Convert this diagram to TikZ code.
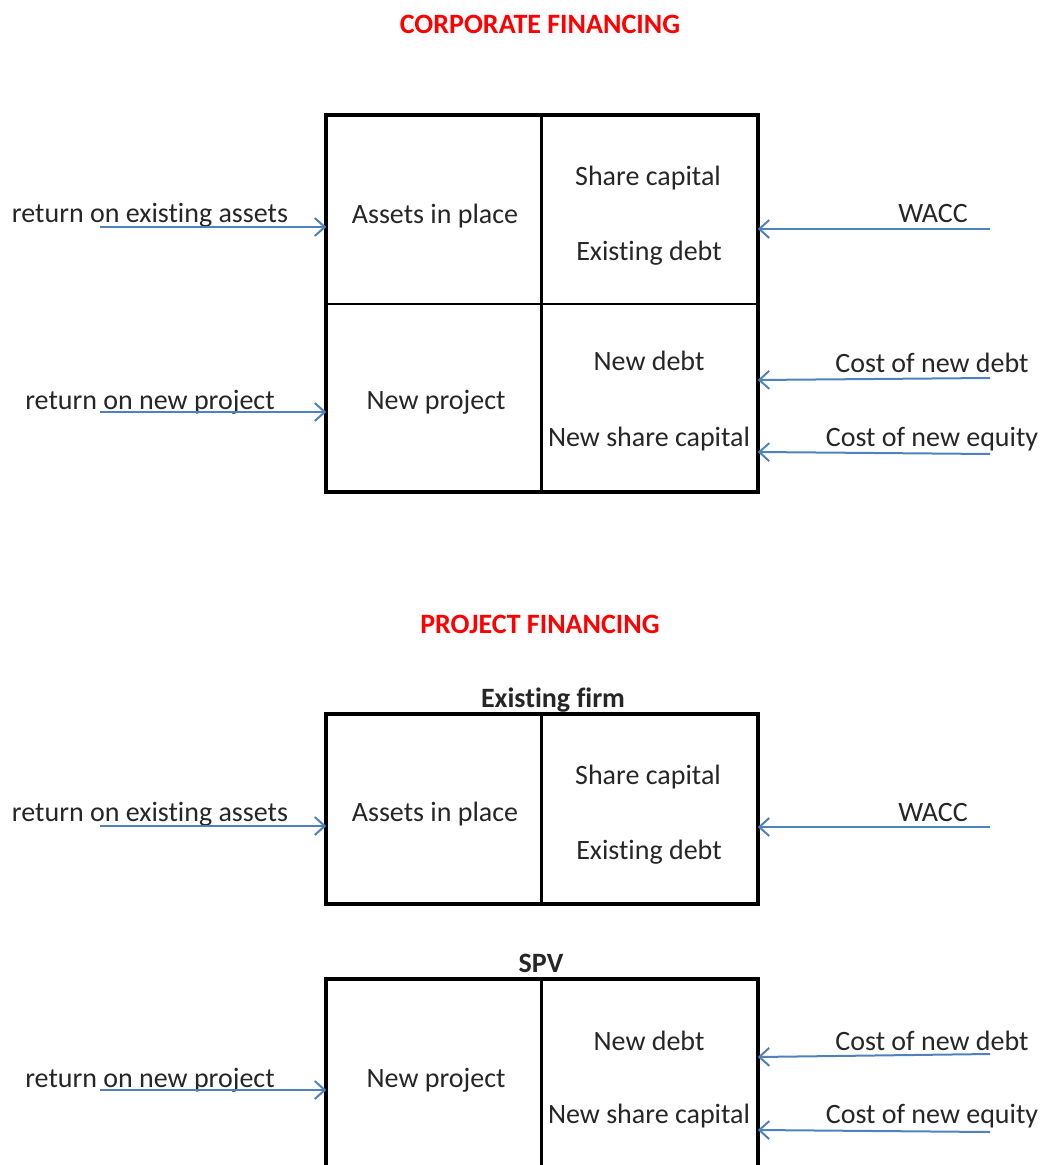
\documentclass[tikz,border=0pt]{standalone}
\usepackage{fontspec}
\setmainfont{Carlito}[Ligatures=NoCommon]
\usetikzlibrary{arrows.meta}
\definecolor{arrblue}{HTML}{4F81BD}
\definecolor{titlered}{HTML}{FF0000}
\definecolor{txt}{HTML}{262626}
\begin{document}
\begin{tikzpicture}[x=0.5pt,y=-0.5pt,
  lbl/.style={font=\fontsize{14}{16}\selectfont, text=txt, inner sep=0pt, anchor=base},
  ttl/.style={font=\fontsize{14}{16}\selectfont\bfseries, text=titlered, inner sep=0pt, anchor=base},
  hdr/.style={font=\fontsize{14}{16}\selectfont\bfseries, text=txt, inner sep=0pt, anchor=base},
  cellL/.style={draw=black, line width=0.75pt, minimum width=107pt, inner sep=0pt},
  cellR/.style={draw=black, line width=0.75pt, minimum width=108pt, inner sep=0pt},
  arr/.style={draw=arrblue, line width=1pt, -{Straight Barb[length=5pt,width=9pt,line width=1pt]}},
  outer/.style={draw=black, line width=2pt},
  divider/.style={draw=black, line width=1.5pt}]
\useasboundingbox (0,0) rectangle (1043,1165);
\clip (0,0) rectangle (1043,1165);

% ---------------- CORPORATE FINANCING ----------------
\node[ttl] (t1) at (540,34) {CORPORATE FINANCING};

\node[cellL, minimum height=94pt] (tl) at (434,210) {};
\node[cellR, minimum height=94pt] (tr) at (649,210) {};
\node[cellL, minimum height=93.5pt] (bl) at (434,397.5) {};
\node[cellR, minimum height=93.5pt] (br) at (649,397.5) {};
\draw[outer] (tl.north west) rectangle (br.south east);
\draw[divider] (tl.north east) -- (bl.south east);

\node[lbl] (a1) at (150,223) {return on existing assets};
\node[lbl] (a2) at (435,224) {Assets in place};
\node[lbl] (a3) at (648,186) {Share capital};
\node[lbl] (a4) at (649,261) {Existing debt};
\node[lbl] (a5) at (933,223) {WACC};
\node[lbl] (a6) at (150,409) {return on new project};
\node[lbl] (a7) at (436,409) {New project};
\node[lbl] (a8) at (649,371) {New debt};
\node[lbl] (a9) at (649,446) {New share capital};
\node[lbl] (a10) at (932,372) {Cost of new debt};
\node[lbl] (a11) at (932,446) {Cost of new equity};

\coordinate (s1) at (100,227);
\coordinate (s2) at (990,229);
\coordinate (s3) at (100,412);
\coordinate (s4) at (990,378);
\coordinate (s5) at (990,454);
\draw[arr] (s1) -- (s1 -| tl.west);
\draw[arr] (s2) -- (s2 -| tr.east);
\draw[arr] (s3) -- (s3 -| bl.west);
\draw[arr] (s4) -- ([yshift=-1pt]s4 -| br.east);
\draw[arr] (s5) -- ([yshift=1pt]s5 -| br.east);

% ---------------- PROJECT FINANCING ----------------
\node[ttl] (t2) at (540,633) {PROJECT FINANCING};
\node[hdr] (h1) at (553,707) {Existing firm};

\node[cellL, minimum height=94pt] (l2) at (434,809) {};
\node[cellR, minimum height=94pt] (r2) at (649,809) {};
\draw[outer] (l2.north west) rectangle (r2.south east);
\draw[divider] (l2.north east) -- (l2.south east);

\node[lbl] (b1) at (150,821) {return on existing assets};
\node[lbl] (b2) at (435,821) {Assets in place};
\node[lbl] (b3) at (648,784) {Share capital};
\node[lbl] (b4) at (649,859) {Existing debt};
\node[lbl] (b5) at (933,821) {WACC};

\coordinate (u1) at (100,826);
\coordinate (u2) at (990,827);
\draw[arr] (u1) -- (u1 -| l2.west);
\draw[arr] (u2) -- (u2 -| r2.east);

\node[hdr] (h2) at (541,972) {SPV};

\node[cellL, minimum height=95pt] (l3) at (434,1075) {};
\node[cellR, minimum height=95pt] (r3) at (649,1075) {};
\draw[outer] (l3.north west) rectangle (r3.south east);
\draw[divider] (l3.north east) -- (l3.south east);

\node[lbl] (c1) at (150,1087) {return on new project};
\node[lbl] (c2) at (436,1087) {New project};
\node[lbl] (c3) at (649,1050) {New debt};
\node[lbl] (c4) at (649,1123) {New share capital};
\node[lbl] (c5) at (932,1050) {Cost of new debt};
\node[lbl] (c6) at (932,1123) {Cost of new equity};

\coordinate (v1) at (100,1090);
\coordinate (v2) at (990,1054);
\coordinate (v3) at (990,1132);
\draw[arr] (v1) -- (v1 -| l3.west);
\draw[arr] (v2) -- ([yshift=-1.5pt]v2 -| r3.east);
\draw[arr] (v3) -- ([yshift=1pt]v3 -| r3.east);
\end{tikzpicture}
\end{document}
